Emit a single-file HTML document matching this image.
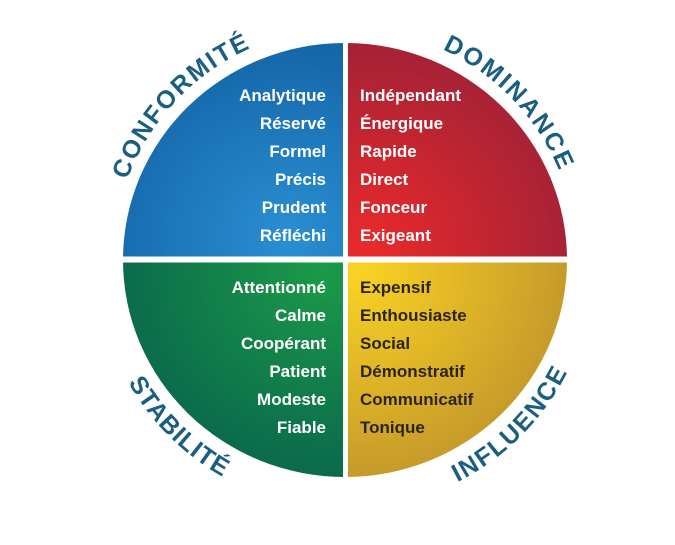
<!DOCTYPE html>
<html><head><meta charset="utf-8"><style>
html,body{margin:0;padding:0;background:#fff;}
svg{display:block;}
</style></head><body>
<svg width="675" height="545" viewBox="0 0 675 545" xmlns="http://www.w3.org/2000/svg">
<defs>
<radialGradient id="gb" cx="0.75" cy="0.9" r="0.9"><stop offset="0" stop-color="#2a8fd2"/><stop offset="1" stop-color="#1466a8"/></radialGradient>
<radialGradient id="gr" cx="0.1" cy="0.95" r="0.9"><stop offset="0" stop-color="#ea2a2a"/><stop offset="1" stop-color="#a82236"/></radialGradient>
<radialGradient id="gg" cx="0.9" cy="0.05" r="0.9"><stop offset="0" stop-color="#1c9a48"/><stop offset="1" stop-color="#0b6b4c"/></radialGradient>
<radialGradient id="gy" cx="0.05" cy="0.05" r="0.95"><stop offset="0" stop-color="#fbd323"/><stop offset="1" stop-color="#c69a2a"/></radialGradient>
<path id="top" d="M113,260 A232,232 0 0 1 577,260"/>
<path id="bot" d="M96,260 A249,249 0 0 0 594,260"/>
</defs>
<path d="M345,260 L123,260 A222,217 0 0 1 345,43 Z" fill="url(#gb)"/>
<path d="M345,260 L345,43 A222,217 0 0 1 567,260 Z" fill="url(#gr)"/>
<path d="M345,260 L123,260 A222,217 0 0 0 345,477 Z" fill="url(#gg)"/>
<path d="M345,260 L345,477 A222,217 0 0 0 567,260 Z" fill="url(#gy)"/>
<rect x="343" y="38" width="5" height="445" fill="#fff"/>
<rect x="118" y="256.5" width="455" height="6" fill="#fff"/>
<g font-family="Liberation Sans, sans-serif" font-weight="bold" font-size="17" fill="#fff">
<g text-anchor="end">
<text x="326" y="101">Analytique</text>
<text x="326" y="129">Réservé</text>
<text x="326" y="157">Formel</text>
<text x="326" y="185">Précis</text>
<text x="326" y="213">Prudent</text>
<text x="326" y="241">Réfléchi</text>
<text x="326" y="293">Attentionné</text>
<text x="326" y="321">Calme</text>
<text x="326" y="349">Coopérant</text>
<text x="326" y="377">Patient</text>
<text x="326" y="405">Modeste</text>
<text x="326" y="433">Fiable</text>
</g>
<text x="360" y="101">Indépendant</text>
<text x="360" y="129">Énergique</text>
<text x="360" y="157">Rapide</text>
<text x="360" y="185">Direct</text>
<text x="360" y="213">Fonceur</text>
<text x="360" y="241">Exigeant</text>
<g fill="#2b2418">
<text x="360" y="293">Expensif</text>
<text x="360" y="321">Enthousiaste</text>
<text x="360" y="349">Social</text>
<text x="360" y="377">Démonstratif</text>
<text x="360" y="405">Communicatif</text>
<text x="360" y="433">Tonique</text>
</g>
</g>
<g font-family="Liberation Sans, sans-serif" font-weight="bold" font-size="25" fill="#1b5f80" text-anchor="middle">
<text><textPath href="#top" startOffset="23.9%" textLength="185" lengthAdjust="spacing">CONFORMITÉ</textPath></text>
<text><textPath href="#top" startOffset="75.6%" textLength="172" lengthAdjust="spacing">DOMINANCE</textPath></text>
<text><textPath href="#bot" startOffset="25%" textLength="135" lengthAdjust="spacing">STABILITÉ</textPath></text>
<text><textPath href="#bot" startOffset="75%" textLength="158" lengthAdjust="spacing">INFLUENCE</textPath></text>
</g>
</svg>
</body></html>
